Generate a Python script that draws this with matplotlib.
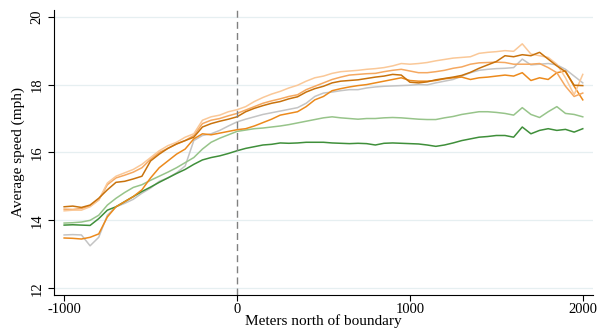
import numpy as np
import matplotlib
matplotlib.use('Agg')  # Use non-GUI backend
import matplotlib.pyplot as plt

# distance from boundary (m)
meters = list(range(-1000, 2001, 50))

# average speed (mph) per series, every 50 m
peach = [14.28, 14.30, 14.30, 14.40, 14.60, 15.10, 15.30, 15.40, 15.50, 15.65,
         15.85, 16.05, 16.20, 16.30, 16.45, 16.55, 16.95, 17.05, 17.10, 17.20,
         17.26, 17.35, 17.50, 17.62, 17.72, 17.80, 17.90, 17.98, 18.10, 18.20,
         18.25, 18.33, 18.38, 18.40, 18.42, 18.45, 18.47, 18.50, 18.55, 18.62,
         18.60, 18.62, 18.65, 18.70, 18.74, 18.78, 18.80, 18.82, 18.92, 18.95,
         18.97, 19.00, 18.98, 19.20, 18.90, 18.85, 18.80, 18.60, 18.20, 17.70, 18.30]
mid_orange = [14.33, 14.32, 14.35, 14.42, 14.60, 15.05, 15.25, 15.33, 15.42, 15.55,
              15.80, 16.00, 16.12, 16.25, 16.35, 16.50, 16.85, 16.95, 17.00, 17.08,
              17.15, 17.25, 17.35, 17.45, 17.52, 17.58, 17.65, 17.70, 17.85, 17.95,
              18.05, 18.15, 18.22, 18.28, 18.30, 18.32, 18.33, 18.38, 18.42, 18.45,
              18.40, 18.35, 18.35, 18.38, 18.42, 18.48, 18.52, 18.60, 18.64, 18.65,
              18.66, 18.65, 18.60, 18.60, 18.60, 18.62, 18.50, 18.35, 17.95, 17.65, 17.75]
dark_orange = [14.40, 14.42, 14.38, 14.45, 14.65, 14.90, 15.12, 15.15, 15.22, 15.30,
               15.75, 15.95, 16.12, 16.25, 16.35, 16.45, 16.75, 16.85, 16.92, 16.98,
               17.05, 17.20, 17.30, 17.38, 17.45, 17.50, 17.58, 17.64, 17.78, 17.88,
               17.95, 18.05, 18.10, 18.12, 18.14, 18.18, 18.22, 18.25, 18.30, 18.28,
               18.07, 18.05, 18.08, 18.14, 18.18, 18.22, 18.27, 18.36, 18.48, 18.58,
               18.68, 18.85, 18.82, 18.88, 18.85, 18.95, 18.75, 18.55, 18.38, 17.98, 17.97]
orange = [13.48, 13.47, 13.45, 13.50, 13.60, 14.10, 14.40, 14.55, 14.70, 14.90,
          15.25, 15.55, 15.75, 15.95, 16.10, 16.40, 16.55, 16.52, 16.57, 16.62,
          16.67, 16.70, 16.78, 16.88, 16.98, 17.10, 17.15, 17.20, 17.35, 17.55,
          17.65, 17.82, 17.88, 17.93, 17.97, 18.00, 18.05, 18.10, 18.15, 18.20,
          18.12, 18.10, 18.10, 18.12, 18.17, 18.20, 18.22, 18.15, 18.20, 18.22,
          18.25, 18.28, 18.25, 18.35, 18.12, 18.20, 18.15, 18.35, 18.40, 17.95, 17.55]
gray = [13.57, 13.58, 13.57, 13.25, 13.50, 14.15, 14.40, 14.50, 14.62, 14.80,
        14.95, 15.15, 15.25, 15.40, 15.60, 16.35, 16.50, 16.55, 16.65, 16.78,
        16.90, 16.98, 17.05, 17.12, 17.17, 17.22, 17.27, 17.32, 17.45, 17.65,
        17.75, 17.78, 17.82, 17.85, 17.85, 17.90, 17.93, 17.95, 17.96, 17.97,
        17.98, 18.00, 17.99, 18.05, 18.10, 18.15, 18.25, 18.35, 18.42, 18.45,
        18.47, 18.48, 18.50, 18.75, 18.58, 18.60, 18.62, 18.58, 18.45, 18.25, 18.05]
light_green = [13.92, 13.93, 13.95, 14.00, 14.15, 14.45, 14.65, 14.82, 14.97, 15.05,
               15.18, 15.30, 15.42, 15.55, 15.70, 15.85, 16.10, 16.30, 16.42, 16.52,
               16.62, 16.66, 16.70, 16.72, 16.75, 16.78, 16.82, 16.87, 16.92, 16.97,
               17.02, 17.05, 17.02, 17.00, 16.98, 17.00, 17.00, 17.02, 17.03, 17.02,
               17.00, 16.98, 16.97, 16.97, 17.02, 17.06, 17.12, 17.16, 17.20, 17.20,
               17.18, 17.15, 17.10, 17.32, 17.12, 17.03, 17.20, 17.35, 17.15, 17.12, 17.05]
dark_green = [13.86, 13.87, 13.86, 13.85, 14.05, 14.30, 14.40, 14.55, 14.70, 14.85,
              14.98, 15.12, 15.25, 15.38, 15.50, 15.65, 15.78, 15.85, 15.90, 15.97,
              16.05, 16.12, 16.17, 16.22, 16.24, 16.28, 16.27, 16.28, 16.30, 16.30,
              16.30, 16.28, 16.27, 16.26, 16.27, 16.26, 16.22, 16.27, 16.28, 16.27,
              16.26, 16.25, 16.22, 16.18, 16.22, 16.28, 16.35, 16.40, 16.45, 16.47,
              16.50, 16.50, 16.45, 16.75, 16.55, 16.65, 16.70, 16.65, 16.68, 16.60, 16.70]

x_ticks = [-1000, 0, 1000, 2000]
x_tick_labels = ['-1000', '0', '1000', '2000']
y_ticks = [12, 14, 16, 18, 20]

series = [
    (gray, '#c4c4c4'),
    (light_green, '#97c48a'),
    (dark_green, '#3f8f3a'),
    (orange, '#ec8a1c'),
    (mid_orange, '#f5a860'),
    (peach, '#fac898'),
    (dark_orange, '#c8720c'),
]

plt.rcParams['font.family'] = ['Liberation Serif', 'DejaVu Serif']

fig = plt.figure(figsize=(6.08, 3.30), dpi=100)
ax = fig.add_axes([0.089, 0.106, 0.886, 0.864])

for vals, col in series:
    ax.plot(meters, vals, color=col, lw=1.1)

ax.axvline(0, color='#808080', lw=1, ls=(0, (5, 3)))

ax.set_xlim(-1058, 2058)
ax.set_ylim(11.8, 20.2)
ax.set_xticks(x_ticks)
ax.set_xticklabels(x_tick_labels)
ax.set_yticks(y_ticks)
ax.yaxis.grid(True, color='#e6eff1', lw=0.9)
ax.set_axisbelow(True)

for s in ['top', 'right']:
    ax.spines[s].set_visible(False)

ax.tick_params(axis='both', labelsize=10.5, length=4, width=0.8)
ax.tick_params(axis='x', pad=1.5)
for lbl in ax.get_yticklabels():
    lbl.set_rotation(90)
    lbl.set_va('center')

ax.set_xlabel('Meters north of boundary', fontsize=11, labelpad=-1)
ax.set_ylabel('Average speed (mph)', fontsize=11, labelpad=4)

fig.savefig('out.png', dpi=100)
plt.close()
